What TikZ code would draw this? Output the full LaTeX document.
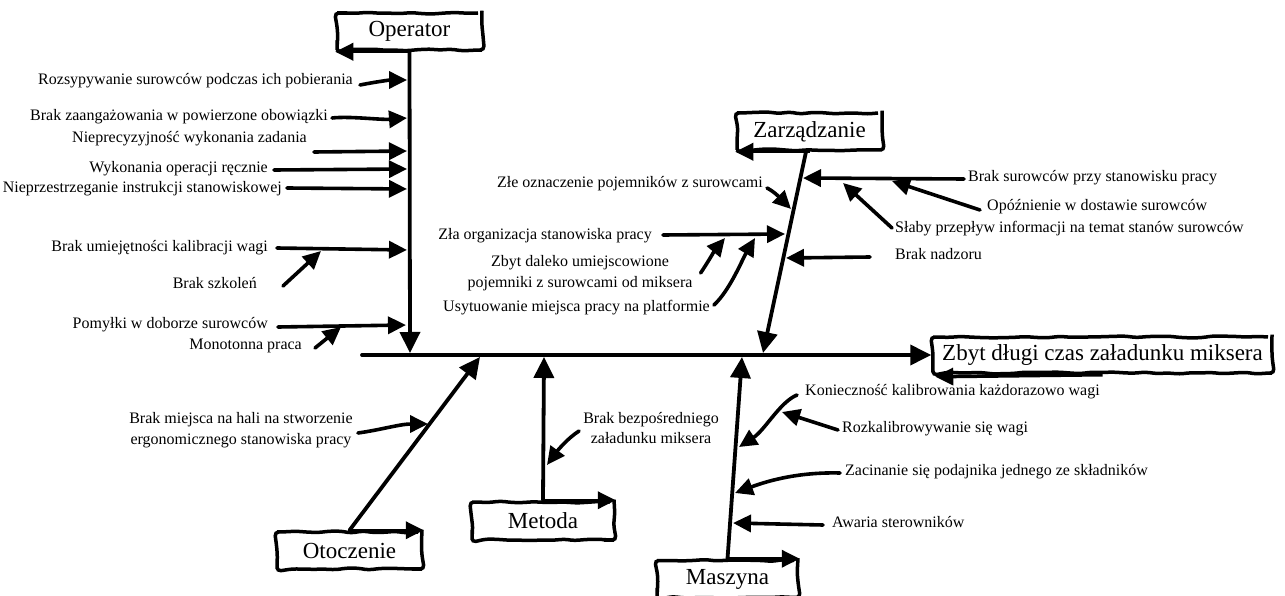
\documentclass[tikz,border=0pt]{standalone}
\usepackage{fontspec}
\setmainfont{Liberation Serif}
\usetikzlibrary{arrows.meta,calc,decorations.pathmorphing}
\newcommand\lblfont{\fontsize{16}{20.5}\selectfont}
\newcommand\headfont{\fontsize{23}{26}\selectfont}
\begin{document}
\begin{tikzpicture}[x=1pt,y=-1pt,
  lbl/.style={font=\lblfont, inner sep=0pt, align=center},
  headbox/.style={draw, line width=3.5pt, font=\headfont, inner sep=0pt, fill=white,
    decorate, decoration={random steps, segment length=11pt, amplitude=1pt}, rounded corners=4pt},
  bone/.style={line width=3.8pt, line cap=round, -{Triangle[length=21pt,width=20pt]}},
  cause/.style={line width=3.6pt, line cap=round, -{Triangle[length=18pt,width=17pt]}},
  edgearr/.style={line width=3.5pt, -{Triangle[length=18pt,width=17pt]}}]
\pgfmathsetseed{7}
\useasboundingbox (0,0) rectangle (1285,596);
\fill[white] (0,0) rectangle (1285,596);

% ---- category boxes ----
\node[headbox, minimum width=145pt, minimum height=37pt] (op)   at (409.5,31.5) {Operator};
\node[headbox, minimum width=145pt, minimum height=37pt] (zar)  at (809.5,131.5) {Zarządzanie};
\node[headbox, minimum width=339pt, minimum height=36pt] (eff)  at (1102.5,355) {Zbyt długi czas załadunku miksera};
\node[headbox, minimum width=142pt, minimum height=38pt] (met)  at (543,521) {Metoda};
\node[headbox, minimum width=145pt, minimum height=37pt] (oto)  at (349.5,550.5) {Otoczenie};
\node[headbox, minimum width=141pt, minimum height=37pt] (masz) at (727.5,579) {Maszyna};

% arrows along box edges
\draw[edgearr] (op.south) -- (op.south west);
\draw[edgearr] (zar.south) -- (zar.south west);
\draw[edgearr] (eff.south) -- ([shift={(4,2)}]eff.south west);
\draw[edgearr] (met.north) -- (met.north east);
\draw[edgearr] (oto.north) -- (oto.north east);
\draw[edgearr] (masz.north) -- (masz.north east);

% ---- spine and bones ----
\coordinate (spineStart) at (362,355);
\draw[bone] (spineStart) -- (eff.west);

\coordinate (opEnd) at (410,353);
\coordinate (zarEnd) at (763,353);
\coordinate (metEnd) at (544,357);
\coordinate (otoEnd) at (480,357);
\coordinate (maszEnd) at (742,357);
\draw[bone] (op.south) -- (opEnd);
\draw[bone] ([xshift=-3.5pt]zar.south) -- (zarEnd);
\draw[bone] (met.north) -- (metEnd);
\draw[bone] (oto.north) -- (otoEnd);
\draw[bone] (masz.north) -- (maszEnd);

% ---- Operator causes ----
\node[lbl, anchor=mid east] (c1) at (353,82) {Rozsypywanie surowców podczas ich pobierania};
\node[lbl, anchor=mid east] (c2) at (328,118) {Brak zaangażowania w powierzone obowiązki};
\node[lbl, anchor=mid east] (c3) at (307,140) {Nieprecyzyjność wykonania zadania};
\node[lbl, anchor=mid east] (c4) at (268,170) {Wykonania operacji ręcznie};
\node[lbl, anchor=mid east] (c5) at (282,190) {Nieprzestrzeganie instrukcji stanowiskowej};
\node[lbl, anchor=mid east] (c6) at (268,249) {Brak umiejętności kalibracji wagi};
\node[lbl, anchor=mid east] (s6) at (257,286) {Brak szkoleń};
\node[lbl, anchor=mid east] (c7) at (268,326) {Pomyłki w doborze surowców};
\node[lbl, anchor=mid east] (s7) at (302,347) {Monotonna praca};

\coordinate (o1) at (407,80);
\coordinate (o2) at (407,118);
\coordinate (o3) at (407,151);
\coordinate (o4) at (407,169);
\coordinate (o5) at (407,189);
\coordinate (o6) at (407,250);
\coordinate (o7) at (406,325);
\coordinate (o6s) at (321,251);
\coordinate (o7s) at (341,327);

\draw[cause] ([shift={(7,3)}]c1.mid east) .. controls (375,82) and (390,80) .. (o1);
\draw[cause] ([shift={(4,0)}]c2.mid east) .. controls (350,116) and (380,120) .. (o2);
\draw[cause] ([shift={(7,12)}]c3.mid east) -- (o3);
\draw[cause] ([shift={(6,0)}]c4.mid east) -- (o4);
\draw[cause] ([shift={(5,-2)}]c5.mid east) -- (o5);
\draw[cause] ([shift={(9,-1)}]c6.mid east) -- (o6);
\draw[cause] ([shift={(26,0)}]s6.mid east) -- (o6s);
\draw[cause] ([shift={(10,1)}]c7.mid east) -- (o7);
\draw[cause] ([shift={(13,1)}]s7.mid east) -- (o7s);

% ---- Zarzadzanie causes ----
\node[lbl, anchor=mid east] (z1) at (763,185) {Złe oznaczenie pojemników z surowcami};
\node[lbl, anchor=mid east] (z2) at (652,237) {Zła organizacja stanowiska pracy};
\node[lbl] (zs1) at (580,273) {Zbyt daleko umiejscowione\\pojemniki z surowcami od miksera};
\node[lbl, anchor=mid east] (zs2) at (710,309) {Usytuowanie miejsca pracy na platformie};
\node[lbl, anchor=mid west] (z3) at (968,179) {Brak surowców przy stanowisku pracy};
\node[lbl, anchor=mid west] (zr1) at (987,208) {Opóźnienie w dostawie surowców};
\node[lbl, anchor=mid west] (zr2) at (895,230) {Słaby przepływ informacji na temat stanów surowców};
\node[lbl, anchor=mid west] (z4) at (895,257) {Brak nadzoru};

\coordinate (zt1) at (791,209);
\coordinate (zt2) at (785,234);
\coordinate (zt2a) at (725,238);
\coordinate (zt2b) at (755,238);
\coordinate (zt3) at (803,178);
\coordinate (zt3a) at (892,181);
\coordinate (zt3b) at (843,183);
\coordinate (zt4) at (786,258);

\draw[cause] ([shift={(4,3)}]z1.mid east) .. controls (775,192) and (782,200) .. (zt1);
\draw[cause] ([shift={(11,-2)}]z2.mid east) -- (zt2);
\draw[cause] ([shift={(8,0)}]zs1.east) .. controls (708,262) and (715,250) .. (zt2a);
\draw[cause] ([shift={(4,-4)}]zs2.mid east) .. controls (730,290) and (742,260) .. (zt2b);
\draw[cause] ([shift={(-4,0)}]z3.mid west) -- (zt3);
\draw[cause] ([shift={(-7,2)}]zr1.mid west) -- (zt3a);
\draw[cause] ([shift={(-3,-2)}]zr2.mid west) -- (zt3b);
\draw[cause] ([shift={(-25,0)}]z4.mid west) -- (zt4);

% ---- Metoda causes ----
\node[lbl] (m1) at (651,428) {Brak bezpośredniego\\załadunku miksera};
\coordinate (mt1) at (547,465);
\draw[cause] ([shift={(-4,3)}]m1.west) .. controls (568,438) and (558,450) .. (mt1);

% ---- Otoczenie causes ----
\node[lbl] (ot1) at (241,430) {Brak miejsca na hali na stworzenie\\ergonomicznego stanowiska pracy};
\coordinate (ott1) at (428,424);
\draw[cause] ([shift={(5,3)}]ot1.east) .. controls (380,430) and (400,424) .. (ott1);

% ---- Maszyna causes ----
\node[lbl, anchor=mid west] (ms1) at (805,393) {Konieczność kalibrowania każdorazowo wagi};
\node[lbl, anchor=mid west] (ms2) at (842,430) {Rozkalibrowywanie się wagi};
\node[lbl, anchor=mid west] (ms3) at (845,473) {Zacinanie się podajnika jednego ze składników};
\node[lbl, anchor=mid west] (ms4) at (832,525) {Awaria sterowników};

\coordinate (mst1) at (739,447);
\coordinate (mst2) at (782,412);
\coordinate (mst3) at (735,493);
\coordinate (mst4) at (733,523);

\draw[cause] ([shift={(-8,2)}]ms1.mid west) .. controls (780,402) and (765,430) .. (mst1);
\draw[cause] ([shift={(-4,0)}]ms2.mid west) -- (mst2);
\draw[cause] ([shift={(-5,0)}]ms3.mid west) .. controls (800,472) and (770,480) .. (mst3);
\draw[cause] ([shift={(-9,0)}]ms4.mid west) -- (mst4);
\end{tikzpicture}
\end{document}
